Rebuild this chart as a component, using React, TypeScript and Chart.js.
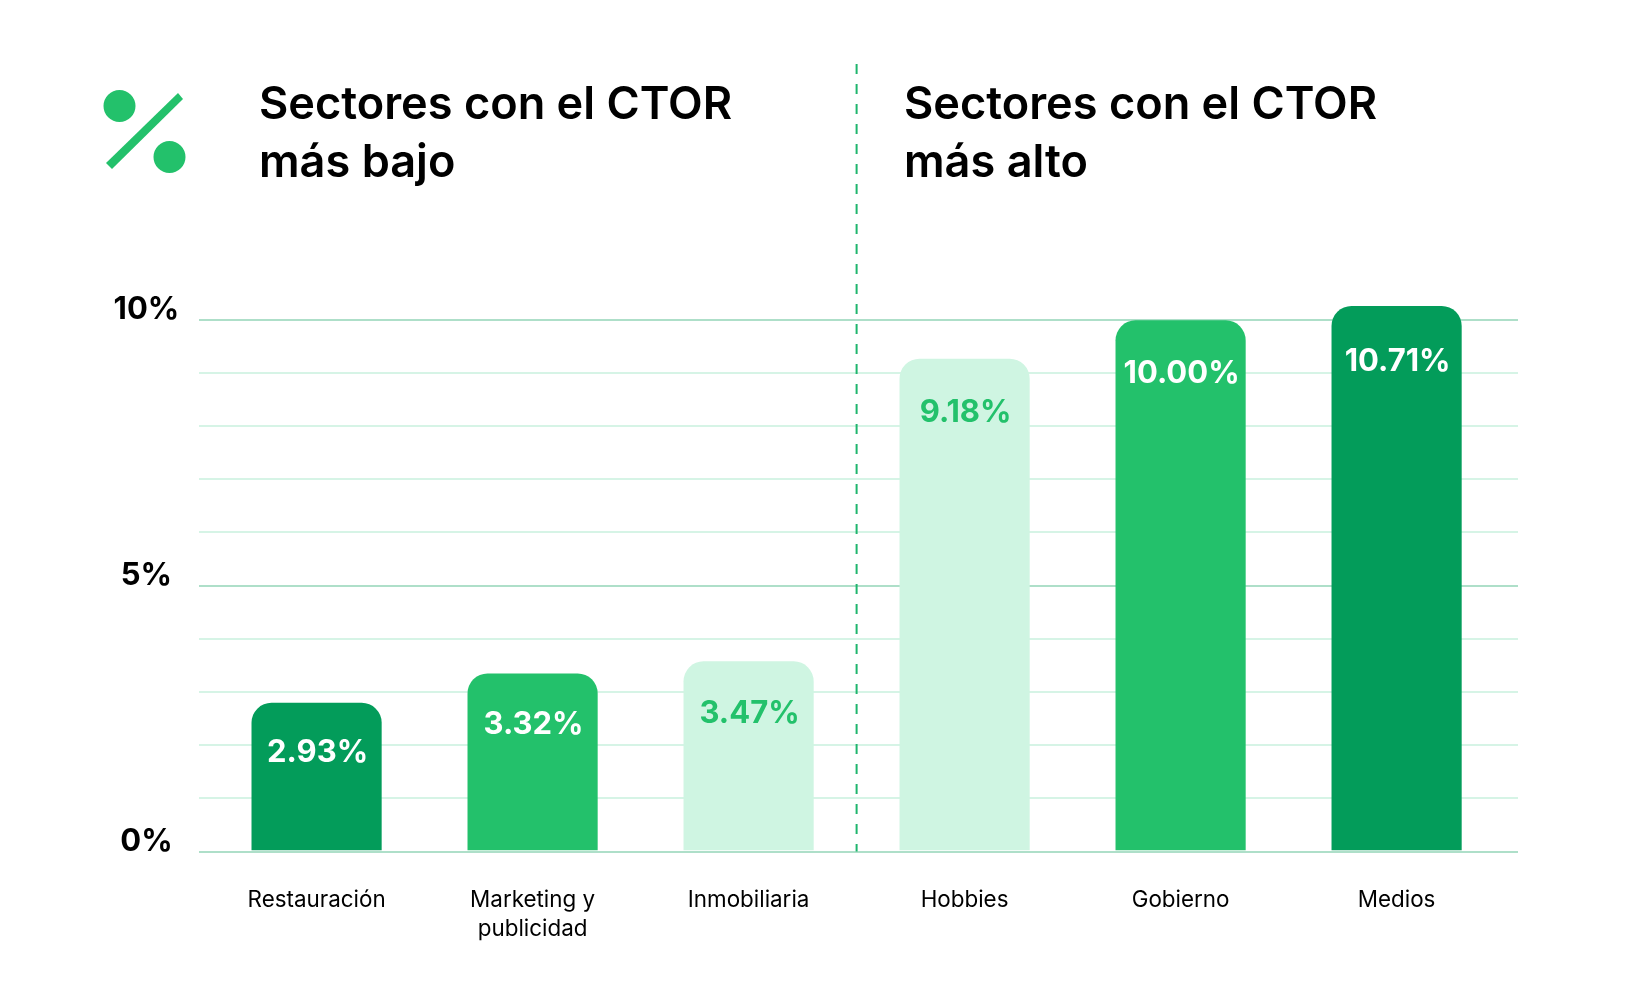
import React, { useEffect, useRef } from 'react';
import { Chart, registerables } from 'chart.js';

Chart.register(...registerables);

const CATEGORIES: (string | string[])[] = ['Restauración', ['Marketing y', 'publicidad'], 'Inmobiliaria', 'Hobbies', 'Gobierno', 'Medios'];
// heights as drawn in the picture, which are not quite the printed values
const BAR_VALUES = [2.79, 3.34, 3.57, 9.26, 9.98, 10.25];
const BAR_LABELS = ['2.93%', '3.32%', '3.47%', '9.18%', '10.00%', '10.71%'];
const BAR_COLORS = ['#039C5A', '#23C16B', '#CFF5E2', '#CFF5E2', '#23C16B', '#039C5A'];
const LABEL_COLORS = ['#FFFFFF', '#FFFFFF', '#23C16B', '#23C16B', '#FFFFFF', '#FFFFFF'];
const MAJOR_TICKS = [0, 5, 10];
const TITLES = ['Sectores con el CTOR\nmás bajo', 'Sectores con el CTOR\nmás alto'];

const overlay = {
  id: 'overlay',
  afterDatasetsDraw(chart: Chart) {
    const { ctx, chartArea, scales } = chart;
    const meta = chart.getDatasetMeta(0);
    const labelDrop = [50, 51, 52, 54, 53, 55];

    ctx.save();
    // value labels inside the bars
    ctx.font = '700 31px Inter';
    ctx.textAlign = 'center';
    ctx.textBaseline = 'middle';
    meta.data.forEach((bar: any, i: number) => {
      ctx.fillStyle = LABEL_COLORS[i];
      ctx.fillText(BAR_LABELS[i], bar.x + 1, bar.y + labelDrop[i]);
    });

    // divider between the two groups
    const x = scales.x.getPixelForValue(2.5);
    ctx.strokeStyle = '#1FB56D';
    ctx.lineWidth = 2;
    ctx.setLineDash([10, 10]);
    ctx.beginPath();
    ctx.moveTo(x, 64);
    ctx.lineTo(x, chartArea.bottom);
    ctx.stroke();
    ctx.setLineDash([]);

    // percent icon
    ctx.fillStyle = '#23C16B';
    ctx.beginPath();
    ctx.arc(119.5, 106, 16, 0, Math.PI * 2);
    ctx.arc(169.5, 157, 16, 0, Math.PI * 2);
    ctx.fill();
    ctx.beginPath();
    ctx.moveTo(178, 93);
    ctx.lineTo(183, 99);
    ctx.lineTo(112, 169);
    ctx.lineTo(106, 163);
    ctx.closePath();
    ctx.fill();
    ctx.restore();
  },
};

export default function App() {
  const canvasRef = useRef<HTMLCanvasElement>(null);

  useEffect(() => {
    if (!canvasRef.current) return;

    const chart = new Chart(canvasRef.current, {
      type: 'bar',
      data: {
        datasets: [
          {
            data: BAR_VALUES.map((v, i) => ({ x: i, y: v })),
            backgroundColor: BAR_COLORS,
            barThickness: 129.5,
            base: 0.03,
            borderRadius: { topLeft: 20, topRight: 20, bottomLeft: 0, bottomRight: 0 },
          },
        ],
      },
      options: {
        responsive: false,
        animation: false,
        layout: { padding: { top: 293, right: 110, bottom: 0, left: 0 } },
        plugins: { legend: { display: false }, tooltip: { enabled: false } },
        scales: {
          x: {
            type: 'linear',
            offset: false,
            min: -0.543,
            max: 5.562,
            afterFit: (scale: any) => {
              scale.height = 147.5;
            },
            grid: { display: false },
            border: { display: false },
            ticks: {
              stepSize: 1,
              includeBounds: false,
              autoSkip: false,
              maxRotation: 0,
              padding: 26,
              color: '#000000',
              font: { family: 'Inter', size: 22.4, lineHeight: 1.3 },
              callback: (v: any) => CATEGORIES[v] ?? '',
            },
          },
          y: {
            min: 0,
            max: 10.5,
            afterFit: (scale: any) => {
              scale.width = 199.3;
            },
            border: { display: false },
            grid: {
              drawTicks: false,
              lineWidth: 2,
              color: (c: any) => (MAJOR_TICKS.includes(c.tick?.value) ? '#AEDFC9' : '#D6F4E6'),
            },
            ticks: {
              stepSize: 1,
              includeBounds: false,
              autoSkip: false,
              crossAlign: 'center',
              padding: 20,
              labelOffset: -10,
              color: '#000000',
              font: { family: 'Inter', size: 31, weight: 700 },
              callback: (v: any) => (MAJOR_TICKS.includes(v) ? `${v}%` : ''),
            },
          },
        },
      },
      plugins: [overlay],
    });

    return () => {
      chart.destroy();
    };
  }, []);

  return (
    <div style={{ position: 'absolute', left: 0, top: 0, width: 1628, height: 999, background: '#fff', overflow: 'hidden' }}>
      <canvas ref={canvasRef} width={1628} height={999} style={{ display: 'block' }} />
      {TITLES.map((t, i) => (
        <div
          key={i}
          style={{
            position: 'absolute',
            left: i === 0 ? 259 : 904,
            top: 74,
            fontFamily: 'Inter',
            fontWeight: 600,
            fontSize: 45.1,
            lineHeight: '58px',
            color: '#000',
            whiteSpace: 'pre',
          }}
        >
          {t}
        </div>
      ))}
    </div>
  );
}
